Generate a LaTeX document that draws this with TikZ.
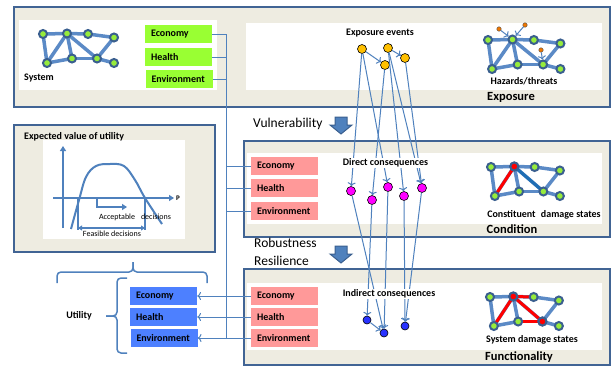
\documentclass[tikz,border=0pt]{standalone}
\usepackage{fontspec}
\setmainfont{Carlito}
\usetikzlibrary{arrows.meta}

\definecolor{panelline}{RGB}{65,100,148}
\definecolor{panelfill}{RGB}{238,236,225}
\definecolor{linkblue}{RGB}{79,129,189}
\definecolor{netline}{RGB}{91,138,198}
\definecolor{netring}{RGB}{58,95,143}
\definecolor{nodegreen}{RGB}{150,235,60}
\definecolor{greenbox}{RGB}{153,255,51}
\definecolor{pinkbox}{RGB}{255,153,153}
\definecolor{utilblue}{RGB}{77,128,255}
\definecolor{eventorange}{RGB}{255,192,0}
\definecolor{hazorange}{RGB}{240,120,0}
\definecolor{conspink}{RGB}{255,0,255}
\definecolor{indblue}{RGB}{40,50,255}
\definecolor{damred}{RGB}{255,0,0}
\definecolor{damblue}{RGB}{31,110,180}

\tikzset{
  panel/.style={draw=panelline, line width=2.5pt, fill=panelfill},
  pane/.style={fill=white},
  valuebox/.style={minimum height=18pt, text width=55pt, inner xsep=6pt, inner ysep=0pt,
    align=left, font=\bfseries\fontsize{10}{12}\selectfont},
  tagtext/.style={font=\bfseries\fontsize{10}{12}\selectfont},
  heading/.style={font=\bfseries\fontsize{12.5}{14}\selectfont},
  stage/.style={font=\fontsize{13.5}{15}\selectfont, anchor=west, inner sep=0pt},
  small/.style={font=\fontsize{8}{9}\selectfont, inner sep=0pt},
  link/.style={draw=linkblue, line width=1pt},
  graphline/.style={draw=linkblue, line width=2pt},
  bracket/.style={draw=linkblue, line width=1.5pt, rounded corners=4pt},
  event/.style={circle, draw=black, line width=0.6pt, fill=eventorange, inner sep=0pt, minimum size=9pt},
  conseq/.style={circle, draw=black, line width=0.6pt, fill=conspink, inner sep=0pt, minimum size=9pt},
  indirect/.style={circle, draw=black, line width=0.6pt, fill=indblue, inner sep=0pt, minimum size=8pt},
  hazard/.style={circle, draw=black!70, line width=0.4pt, fill=hazorange, inner sep=0pt, minimum size=4.5pt},
  netedge/.style={draw=netline, line width=3.5pt},
  damedge/.style={line width=3pt},
  netnode/.style={circle, draw=netring, line width=2pt, fill=nodegreen, inner sep=0pt, minimum size=8pt},
  stagefill/.style={fill=linkblue, draw=netring, line width=1pt}
}

\newcommand{\netgraph}[4]{%
  \begin{scope}[shift={(#2,#3)}, xscale=#4]
    \coordinate (#1-1) at (0,0);
    \coordinate (#1-2) at (24,-0.5);
    \coordinate (#1-3) at (45,0);
    \coordinate (#1-4) at (71,3.5);
    \coordinate (#1-5) at (4,29);
    \coordinate (#1-6) at (29,24.5);
    \coordinate (#1-7) at (54,24.5);
    \coordinate (#1-8) at (71,29);
  \end{scope}
  \foreach \a/\b in {1/2,2/3,3/4,1/5,2/5,2/6,2/7,5/6,6/7,4/7,7/8}
    \draw[netedge] (#1-\a) -- (#1-\b);
}
\newcommand{\netnodes}[1]{%
  \foreach \i in {1,...,8}
    \node[netnode] (#1n\i) at (#1-\i) {};
}
\newcommand{\stagearrow}[2]{%
  \draw[stagefill, shift={(#1,#2)}] (-6,0) -- (6,0) -- (6,8) -- (11,8) -- (0,17) -- (-11,8) -- (-6,8) -- cycle;
}

\begin{document}
\begin{tikzpicture}[x=1pt,y=-1pt]
  \useasboundingbox (0,0) rectangle (612,367);

  \draw[panel] (14,7) rectangle (610,107);
  \fill[pane] (19,20) rectangle (217,90);
  \fill[pane] (246,23) rectangle (602,90);
  \draw[panel] (244,141) rectangle (610,237);
  \fill[pane] (247,153) rectangle (602,224);
  \draw[panel] (244,269) rectangle (610,365);
  \fill[pane] (247,283) rectangle (602,350);
  \draw[panel] (14,125) rectangle (215,252);
  \fill[pane] (43,140) rectangle (185,239);

  \netgraph{s}{43}{34}{1}
  \netnodes{s}
  \node[tagtext] (system) at (39,78) {System};

  \netgraph{h}{488}{40}{1.02}
  \netnodes{h}
  \node[hazard] (hz1) at (499,29) {};
  \node[hazard] (hz2) at (525,25) {};
  \node[hazard] (hz3) at (541,50) {};
  \draw[link,->] (hz1) -- (hn2);
  \draw[link,->] (hz2) -- (hn2);
  \draw[link,->] (hz3) -- (hn7);
  \node[tagtext] (hazards) at (524,81) {Hazards/threats};
  \node[heading] (exposure) at (511,97) {Exposure};

  \netgraph{c}{491}{167}{0.97}
  \draw[damedge, draw=damred] (c-2) -- (c-5);
  \draw[damedge, draw=damblue] (c-2) -- (c-7);
  \netnodes{c}
  \node[netnode, fill=damred] (cred) at (c-2) {};
  \node[tagtext] (constituent) at (544,215) {Constituent\hspace{3pt} damage states};
  \node[heading] (condition) at (512,229) {Condition};

  \netgraph{f}{490}{297}{0.97}
  \draw[damedge, draw=damred] (f-2) -- (f-5);
  \draw[damedge, draw=damred] (f-2) -- (f-3);
  \draw[damedge, draw=damred] (f-2) -- (f-7);
  \draw[damedge, draw=damred] (f-6) -- (f-7);
  \netnodes{f}
  \node[netnode, fill=damred] (fred2) at (f-2) {};
  \node[netnode, fill=damred] (fred7) at (f-7) {};
  \node[tagtext] (sysdamage) at (532,340) {System damage states};
  \node[heading] (functionality) at (519,357) {Functionality};

  \node[valuebox, fill=greenbox] (ecoG) at (178.5,34) {Economy};
  \node[valuebox, fill=greenbox] (hltG) at (178.5,57) {Health};
  \node[valuebox, fill=greenbox] (envG) at (179,79) {Environment};

  \node[valuebox, fill=pinkbox] (ecoC) at (284.5,166) {Economy};
  \node[valuebox, fill=pinkbox] (hltC) at (284.5,188) {Health};
  \node[valuebox, fill=pinkbox] (envC) at (284.5,211) {Environment};

  \node[valuebox, fill=pinkbox] (ecoF) at (284.5,296) {Economy};
  \node[valuebox, fill=pinkbox] (hltF) at (284.5,317) {Health};
  \node[valuebox, fill=pinkbox] (envF) at (284.5,338) {Environment};

  \node[valuebox, fill=utilblue] (ecoU) at (163.5,296) {Economy};
  \node[valuebox, fill=utilblue] (hltU) at (163.5,317) {Health};
  \node[valuebox, fill=utilblue] (envU) at (164,338) {Environment};

  \coordinate (busTop) at (226,34);
  \coordinate (busBot) at (226,338);
  \draw[link] (busTop) -- (busBot);
  \draw[link] (ecoG.east) -- (ecoG.east -| busTop);
  \draw[link] (hltG.east) -- (hltG.east -| busTop);
  \draw[link] (envG.east) -- (envG.east -| busTop);
  \draw[link] (busTop |- ecoC.west) -- (ecoC.west);
  \draw[link] (busTop |- hltC.west) -- (hltC.west);
  \draw[link] (busTop |- envC.west) -- (envC.west);
  \draw[link,->] (ecoF.west) -- (ecoU.east);
  \draw[link,->] (hltF.west) -- (hltU.east);
  \draw[link,->] (envF.west) -- (envU.east);

  \node[tagtext] (events) at (380,33) {Exposure events};
  \node[event] (ev1) at (362,49) {};
  \node[event] (ev2) at (388,48) {};
  \node[event] (ev3) at (385,65) {};
  \node[event] (ev4) at (405,58) {};
  \draw[link,->] (ev1) -- (ev3);
  \draw[link,->] (ev2) -- (ev4);

  \node[conseq] (dc1) at (351,191) {};
  \node[conseq] (dc2) at (372,200) {};
  \node[conseq] (dc3) at (388,187) {};
  \node[conseq] (dc4) at (404,196) {};
  \node[conseq] (dc5) at (422,188) {};
  \draw[link,->] (ev1) -- (dc1);
  \draw[link,->] (ev1) -- (dc3);
  \draw[link,->] (ev3) -- (dc2);
  \draw[link,->] (ev2) -- (dc4);
  \draw[link,->] (ev2) -- (dc5);
  \draw[link,->] (ev4) -- (dc5);
  \node[tagtext, fill=white, inner sep=1pt] (direct) at (385.5,163) {Direct consequences};

  \node[indirect] (ic1) at (367,320) {};
  \node[indirect] (ic2) at (384,333) {};
  \node[indirect] (ic3) at (405,326) {};
  \draw[link,->] (dc1) -- (ic2);
  \draw[link,->] (dc2) -- (ic1);
  \draw[link,->] (dc3) -- (ic2);
  \draw[link,->] (dc4) -- (ic3);
  \draw[link,->] (dc5) -- (ic3);
  \draw[link,->] (ic1) -- (ic2);
  \node[tagtext, fill=white, inner sep=1pt] (indirectlbl) at (389,294) {Indirect consequences};

  \node[stage] (vulner) at (253,124) {Vulnerability};
  \stagearrow{341}{117}
  \node[stage] (robust) at (254,243) {Robustness};
  \node[stage] (resil) at (254,261) {Resilience};
  \stagearrow{341}{246}

  \node[tagtext, anchor=west, inner sep=0pt] (expected) at (24,137) {Expected value of utility};
  \draw[graphline, -{Triangle[length=5pt,width=6pt]}] (63,228) -- (63,146);
  \draw[graphline, -{Triangle[length=5pt,width=6pt]}] (53,198) -- (174,198);
  \node[font=\bfseries\fontsize{7}{8}\selectfont, inner sep=0pt] (paxis) at (178,198) {P};
  \draw[graphline] plot[smooth, tension=0.6] coordinates
    {(71,229) (79,200) (86,177) (96,166) (110,164) (124,166) (135,180) (145,198) (162,224)};
  \draw[graphline, -{Triangle[length=5pt,width=6pt]}] (97,198) -- (97,207) -- (127,207);
  \draw[graphline] (78,198) -- (78,230);
  \draw[graphline] (145,198) -- (145,230);
  \draw[graphline, {Triangle[length=4pt,width=5pt]}-{Triangle[length=4pt,width=5pt]}] (78,228) -- (145,228);
  \node[small] (accept) at (135,217) {Acceptable\hspace{6pt}decisions};
  \node[small] (feasible) at (112,234) {Feasible decisions};

  \draw[bracket] (57,283) |- (133,272) -- (133,262);
  \draw[bracket] (133,262) -- (133,272) -| (207,283);
  \draw[bracket] (127,278) -| (117,316) -- (106,316);
  \draw[bracket] (106,316) -- (117,316) |- (127,353);
  \node[tagtext] (utility) at (79,316) {Utility};
\end{tikzpicture}
\end{document}
